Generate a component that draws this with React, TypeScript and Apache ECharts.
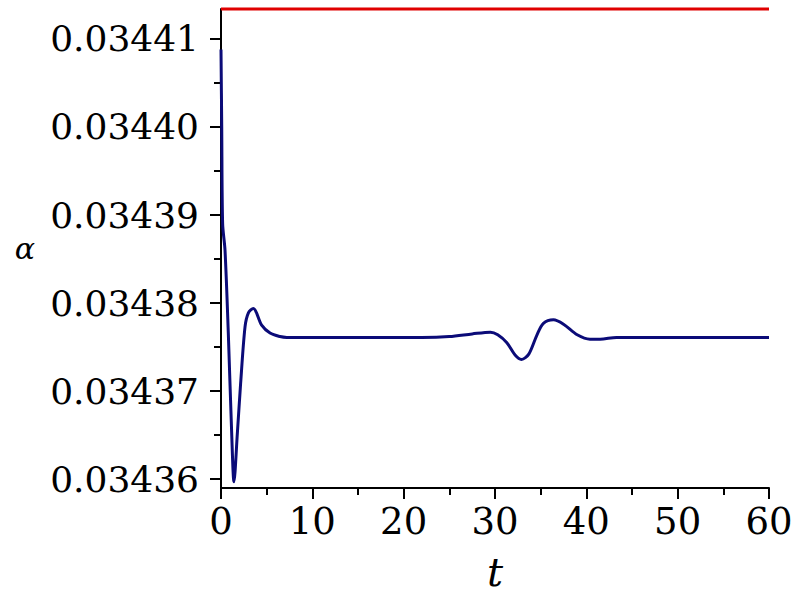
import React, { useEffect, useRef } from "react";
import * as echarts from "echarts";

const tValues = [0, 0.08, 0.18, 0.44, 0.8, 1.17, 1.42, 1.79, 2.15, 2.63, 3.0, 3.54, 4.45, 5.37, 6.46, 7.2, 15, 22, 25, 27.5, 29.5, 30.3, 31.3, 32.2, 32.9, 33.7, 34.6, 35.3, 36.4, 37.5, 39.0, 40.4, 41.5, 43.3, 50, 60];
const alphaValues = [0.0344088, 0.0344, 0.034389, 0.034386, 0.0343766, 0.0343652, 0.0343597, 0.0343652, 0.0343709, 0.0343773, 0.0343789, 0.0343794, 0.0343775, 0.0343766, 0.0343762, 0.0343761, 0.0343761, 0.0343761, 0.0343762, 0.0343765, 0.0343767, 0.0343764, 0.0343755, 0.0343741, 0.0343736, 0.0343742, 0.0343764, 0.0343777, 0.0343781, 0.0343776, 0.0343764, 0.0343759, 0.0343759, 0.0343761, 0.0343761, 0.0343761];
const limitT = [0, 60];
const limitAlpha = [0.0344134, 0.0344134];
const yMajorTicks = [0.03436, 0.03437, 0.03438, 0.03439, 0.0344, 0.03441];
const yMinorTicks = [0.034365, 0.034375, 0.034385, 0.034395, 0.034405];

const FONT = "DejaVu Serif";

export default function App() {
  const ref = useRef<HTMLDivElement>(null);
  useEffect(() => {
    if (!ref.current) return;
    const chart = echarts.init(ref.current, null, { renderer: "svg" });
    const axisLineStyle = { color: "#000", width: 2 };
    chart.setOption({
      animation: false,
      backgroundColor: "#fff",
      textStyle: { fontFamily: FONT },
      grid: { left: 221, top: 9, right: 31, bottom: 112, containLabel: false, outerBoundsMode: "none" },
      xAxis: {
        type: "value",
        min: 0,
        max: 60,
        interval: 10,
        name: "t",
        nameLocation: "middle",
        nameGap: 64,
        nameTextStyle: { fontFamily: FONT, fontSize: 40, fontStyle: "italic", color: "#000" },
        axisLine: { show: true, lineStyle: axisLineStyle },
        axisTick: { show: true, length: 11, lineStyle: axisLineStyle },
        minorTick: { show: true, splitNumber: 2, length: 7, lineStyle: axisLineStyle },
        splitLine: { show: false },
        minorSplitLine: { show: false },
        axisLabel: { fontFamily: FONT, fontSize: 37, color: "#000", margin: 15 },
      },
      yAxis: [
        {
          type: "value",
          min: 0.034359,
          max: 0.0344134,
          position: "left",
          name: "α",
          nameLocation: "middle",
          nameRotate: 0,
          nameGap: 186,
          nameTextStyle: { fontFamily: FONT, fontSize: 30, fontStyle: "italic", color: "#000" },
          axisLine: { show: true, lineStyle: axisLineStyle },
          axisTick: { show: true, length: 11, lineStyle: axisLineStyle, customValues: yMajorTicks },
          splitLine: { show: false },
          axisLabel: {
            fontFamily: FONT,
            fontSize: 36,
            color: "#000",
            margin: 22,
            customValues: yMajorTicks,
            formatter: (v: number) => v.toFixed(5),
          },
        },
        {
          type: "value",
          min: 0.034359,
          max: 0.0344134,
          position: "left",
          axisLine: { show: false },
          axisTick: { show: true, length: 7, lineStyle: axisLineStyle, customValues: yMinorTicks },
          axisLabel: { show: false },
          splitLine: { show: false },
        },
      ],
      series: [
        {
          type: "line",
          data: limitT.map((t, i) => [t, limitAlpha[i]]),
          showSymbol: false,
          clip: false,
          lineStyle: { color: "#e00000", width: 3 },
          z: 3,
        },
        {
          type: "line",
          data: tValues.map((t, i) => [t, alphaValues[i]]),
          showSymbol: false,
          smooth: 0.3,
          lineStyle: { color: "#0b0b78", width: 3 },
          z: 2,
        },
      ],
    });
    return () => chart.dispose();
  }, []);
  return <div ref={ref} style={{ width: 800, height: 600, position: "absolute", left: 0, top: 0 }} />;
}
